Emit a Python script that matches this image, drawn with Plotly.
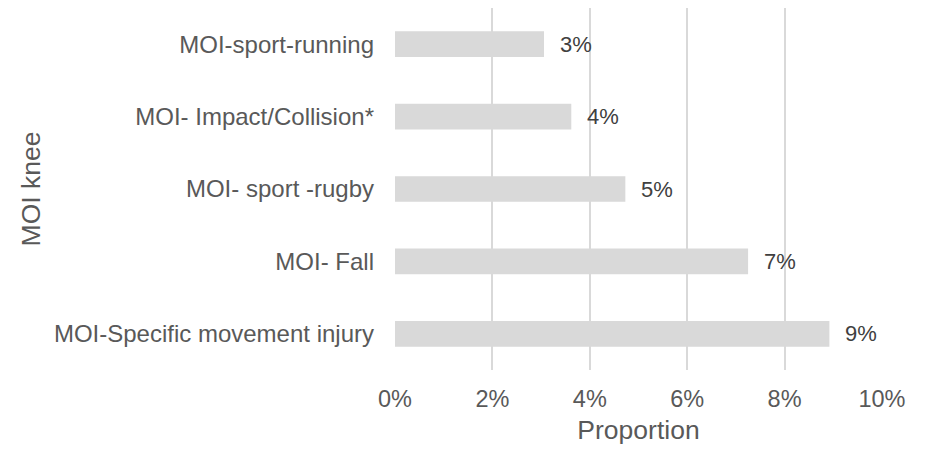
import plotly.graph_objects as go

categories = [
    "MOI-Specific movement injury",
    "MOI- Fall",
    "MOI- sport -rugby",
    "MOI- Impact/Collision*",
    "MOI-sport-running",
]
proportions = [0.0892, 0.0725, 0.0473, 0.0362, 0.0306]
x_ticks = [0, 0.02, 0.04, 0.06, 0.08, 0.10]
x_tick_labels = ["0%", "2%", "4%", "6%", "8%", "10%"]

FONT = "Liberation Sans, Arial, sans-serif"
BAR_COLOR = "#d9d9d9"
GRID_COLOR = "#d9d9d9"

fig = go.Figure()
fig.add_trace(go.Bar(
    x=proportions,
    y=categories,
    orientation="h",
    marker=dict(color=BAR_COLOR, line=dict(width=0)),
    hoverinfo="skip",
))

for cat, val in zip(categories, proportions):
    fig.add_annotation(
        x=val, y=cat, text=f"{val:.0%}", showarrow=False,
        xanchor="left", xshift=14,
        font=dict(family=FONT, size=22, color="#404040"),
    )

# page body adds an 8px offset, so the figure is sized 8px smaller
fig.update_layout(
    width=932, height=444,
    margin=dict(l=387, r=58, t=0, b=82),
    plot_bgcolor="white", paper_bgcolor="white",
    showlegend=False,
    bargap=0.645,
    font=dict(family=FONT, size=24, color="#595959"),
)
fig.update_xaxes(
    range=[0, 0.10],
    tickvals=x_ticks, ticktext=x_tick_labels,
    tickfont=dict(size=23.5),
    showgrid=True, gridcolor=GRID_COLOR, gridwidth=1.5,
    zeroline=False, showline=False,
    ticks="", ticklabelstandoff=12,
    title=dict(text="Proportion", font=dict(size=26.5), standoff=9),
)
fig.update_yaxes(
    showgrid=False, zeroline=False, showline=False,
    ticks="", ticklabelstandoff=20,
    title=dict(text="MOI knee", font=dict(size=26.5), standoff=5),
)

fig.write_html("out.html")
